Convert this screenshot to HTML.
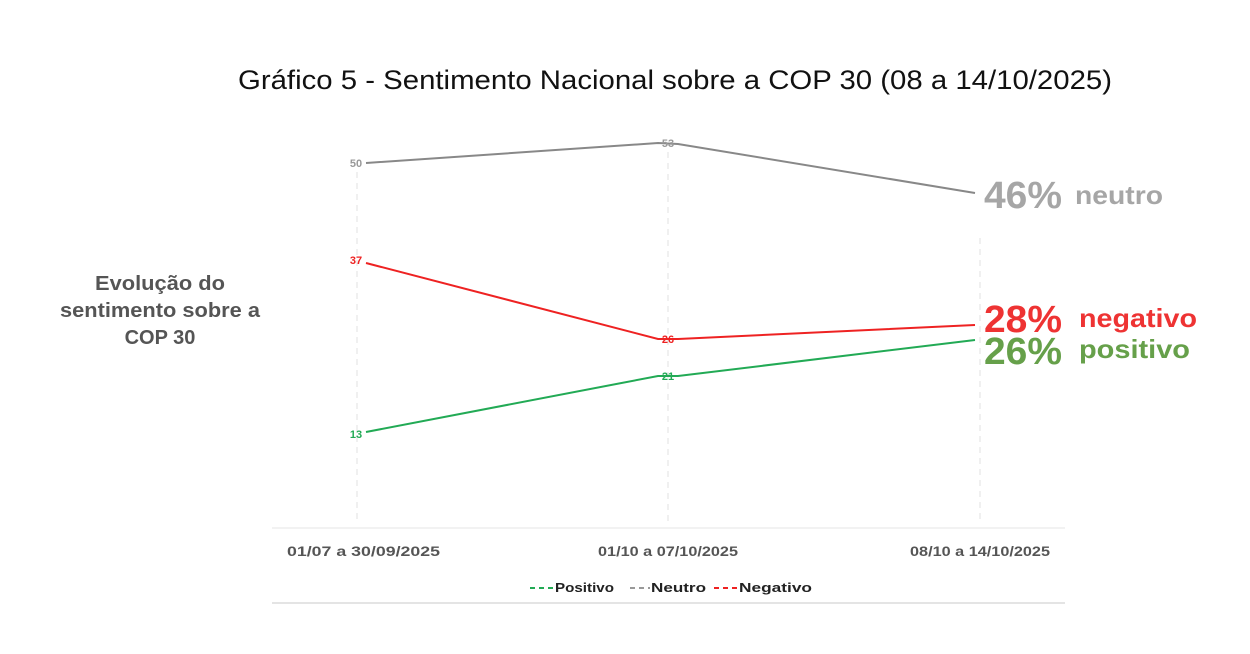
<!DOCTYPE html>
<html><head><meta charset="utf-8"><style>
body{margin:0;background:#fff;width:1250px;height:649px;overflow:hidden;font-family:"Liberation Sans",sans-serif}
</style></head><body>
<svg width="1250" height="649" xmlns="http://www.w3.org/2000/svg" font-family="Liberation Sans, sans-serif">
<text x="238" y="89" font-size="27" fill="#111" textLength="874" lengthAdjust="spacingAndGlyphs">Gráfico 5 - Sentimento Nacional sobre a COP 30 (08 a 14/10/2025)</text>
<g fill="#555" font-size="20" font-weight="bold" text-anchor="middle">
<text x="160" y="290" textLength="130" lengthAdjust="spacingAndGlyphs">Evolução do</text>
<text x="160" y="317" textLength="200" lengthAdjust="spacingAndGlyphs">sentimento sobre a</text>
<text x="160" y="344">COP 30</text>
</g>
<g stroke="#e6e6e6" stroke-width="1.2" stroke-dasharray="6,5">
<line x1="357" y1="172" x2="357" y2="522"/>
<line x1="668" y1="152" x2="668" y2="522"/>
<line x1="980" y1="238" x2="980" y2="522"/>
</g>
<line x1="272" y1="528" x2="1065" y2="528" stroke="#eee" stroke-width="1.5"/>
<line x1="272" y1="603" x2="1065" y2="603" stroke="#e4e4e4" stroke-width="2"/>
<polyline points="366,163 658,143 678,144 975,193" fill="none" stroke="#888" stroke-width="2"/>
<polyline points="366,263 658,339 678,339 975,325" fill="none" stroke="#ee2222" stroke-width="2"/>
<polyline points="366,432 658,376 678,376 975,340" fill="none" stroke="#22aa55" stroke-width="2"/>
<g font-size="11" font-weight="bold" text-anchor="middle">
<text x="356" y="167" fill="#999">50</text>
<text x="668" y="147" fill="#999">53</text>
<text x="356" y="264" fill="#ee2222">37</text>
<text x="668" y="343" fill="#ee2222">26</text>
<text x="356" y="438" fill="#22aa55">13</text>
<text x="668" y="380" fill="#22aa55">21</text>
</g>
<g font-weight="bold">
<text x="984" y="208" font-size="38" fill="#a6a6a6" textLength="78" lengthAdjust="spacingAndGlyphs">46%</text>
<text x="1075" y="204" font-size="26" fill="#a6a6a6" textLength="88" lengthAdjust="spacingAndGlyphs">neutro</text>
<text x="984" y="332" font-size="38" fill="#ee3333" textLength="78" lengthAdjust="spacingAndGlyphs">28%</text>
<text x="1079" y="327" font-size="26" fill="#ee3333" textLength="118" lengthAdjust="spacingAndGlyphs">negativo</text>
<text x="984" y="364" font-size="38" fill="#66a04a" textLength="78" lengthAdjust="spacingAndGlyphs">26%</text>
<text x="1079" y="358" font-size="26" fill="#66a04a" textLength="111" lengthAdjust="spacingAndGlyphs">positivo</text>
</g>
<g font-size="14" font-weight="bold" fill="#555">
<text x="287" y="556" textLength="153" lengthAdjust="spacingAndGlyphs">01/07 a 30/09/2025</text>
<text x="598" y="556" textLength="140" lengthAdjust="spacingAndGlyphs">01/10 a 07/10/2025</text>
<text x="910" y="556" textLength="140" lengthAdjust="spacingAndGlyphs">08/10 a 14/10/2025</text>
</g>
<g font-size="13" font-weight="bold" fill="#222">
<line x1="530" y1="588" x2="553" y2="588" stroke="#22aa55" stroke-width="2" stroke-dasharray="5,4"/>
<text x="555" y="592" textLength="59" lengthAdjust="spacingAndGlyphs">Positivo</text>
<line x1="630" y1="588" x2="650" y2="588" stroke="#999" stroke-width="2" stroke-dasharray="5,4"/>
<text x="651" y="592" textLength="55" lengthAdjust="spacingAndGlyphs">Neutro</text>
<line x1="714" y1="588" x2="738" y2="588" stroke="#ee2222" stroke-width="2" stroke-dasharray="5,4"/>
<text x="739" y="592" textLength="73" lengthAdjust="spacingAndGlyphs">Negativo</text>
</g>
</svg>
</body></html>
